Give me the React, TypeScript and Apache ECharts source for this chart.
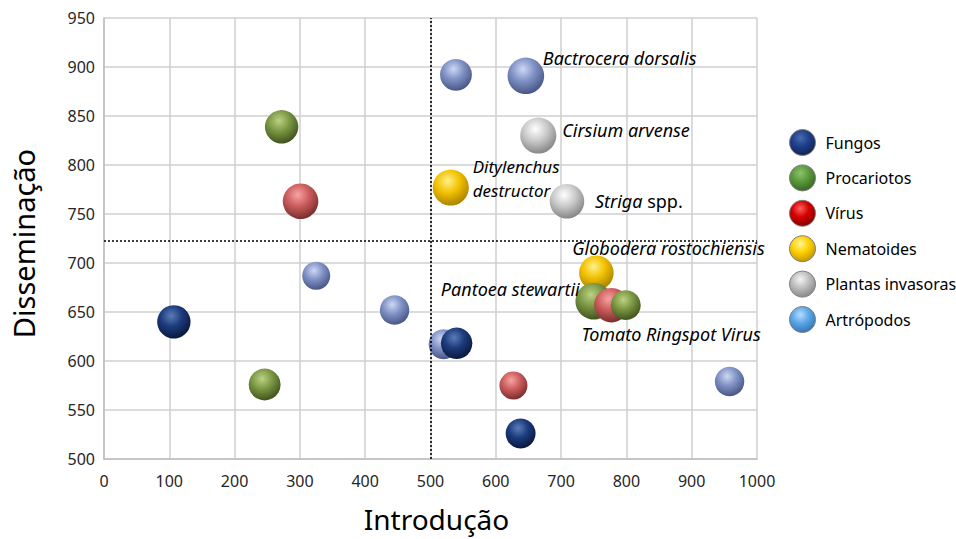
import React, { useEffect, useRef } from "react";
import * as echarts from "echarts";

// ---- data ----
const categories = ["Fungos", "Procariotos", "Vírus", "Nematoides", "Plantas invasoras", "Artrópodos"];

const fungosX = [107, 540, 638];
const fungosY = [640, 618, 526];
const fungosZ = [83, 74, 67];
const fungosNames = ["", "", ""];

const procariotosX = [272, 246, 750, 799];
const procariotosY = [839, 576, 661, 657];
const procariotosZ = [83, 76, 100, 67];
const procariotosNames = ["", "", "Pantoea stewartii", ""];

const virusX = [301, 627, 777];
const virusY = [763, 575, 657];
const virusZ = [94, 59, 89];
const virusNames = ["", "", "Tomato Ringspot Virus"];

const nematoidesX = [531, 754];
const nematoidesY = [777, 690];
const nematoidesZ = [97, 89];
const nematoidesNames = ["Ditylenchus\ndestructor", "Globodera rostochiensis"];

const plantasX = [665, 709];
const plantasY = [830, 763];
const plantasZ = [97, 89];
const plantasNames = ["Cirsium arvense", "Striga spp."];

const artropodosX = [539, 646, 325, 445, 520, 958];
const artropodosY = [892, 891, 687, 652, 617, 579];
const artropodosZ = [76, 100, 59, 65, 67, 65];
const artropodosNames = ["", "Bactrocera dorsalis", "", "", "", ""];

const xTicks = { min: 0, max: 1000, interval: 100 };
const yTicks = { min: 500, max: 950, interval: 50 };
const dividerX = 500;
const dividerY = 723;

// ---- styling helpers ----
const FONT = "Noto Sans";
const NOTE_SIZE = 18;

function sphere(light: string, base: string, dark: string) {
  return {
    type: "radial",
    x: 0.42,
    y: 0.32,
    r: 0.78,
    colorStops: [
      { offset: 0, color: light },
      { offset: 0.42, color: base },
      { offset: 0.85, color: dark },
      { offset: 1, color: dark },
    ],
  };
}

const plotColors: Record<string, any> = {
  Fungos: sphere("#5b7cb8", "#1c3b7c", "#0b1a42"),
  Procariotos: sphere("#bcd184", "#7a9743", "#445720"),
  "Vírus": sphere("#f6a4a4", "#cc5c5c", "#7e3030"),
  Nematoides: sphere("#fff08a", "#f2c200", "#b08600"),
  "Plantas invasoras": sphere("#ffffff", "#cacaca", "#8a8a8a"),
  "Artrópodos": sphere("#cdd8f4", "#7f91c4", "#4b5988"),
};

const legendColors: Record<string, any> = {
  Fungos: sphere("#4a6cb0", "#1f3f8c", "#11255a"),
  Procariotos: sphere("#8cc46c", "#5c9a3c", "#3a6a24"),
  "Vírus": sphere("#ff6060", "#d40000", "#8a0000"),
  Nematoides: sphere("#fff59a", "#ffd200", "#c89a00"),
  "Plantas invasoras": sphere("#f4f4f4", "#bfbfbf", "#8c8c8c"),
  "Artrópodos": sphere("#b8dcff", "#5aa8e8", "#3a78b8"),
};

const labelLayout: Record<string, any> = {
  "Bactrocera dorsalis": { align: "left", offset: [17, -18] },
  "Cirsium arvense": { align: "left", offset: [24, -6] },
  "Ditylenchus\ndestructor": { align: "left", offset: [22, -9], lineHeight: 24, fontSize: 17 },
  "Striga spp.": { align: "left", offset: [28, 0] },
  "Globodera rostochiensis": { align: "left", offset: [-24, -25] },
  "Pantoea stewartii": { align: "right", offset: [-14, -12] },
  "Tomato Ringspot Virus": { align: "left", offset: [-30, 29] },
};

function sizeOf(z: number) {
  return 36.6 * Math.sqrt(z / 100);
}

function buildData(xs: number[], ys: number[], zs: number[], names: string[], pick?: number[]) {
  const idx = pick ?? xs.map((_, i) => i);
  return idx.map((i) => {
    const item: any = { value: [xs[i], ys[i], zs[i]], name: names[i] };
    const name = names[i];
    if (name) {
      const l = labelLayout[name];
      const isStriga = name === "Striga spp.";
      const fs = l.fontSize ?? NOTE_SIZE;
      item.label = {
        show: true,
        position: "inside",
        align: l.align,
        verticalAlign: "middle",
        offset: l.offset,
        lineHeight: l.lineHeight,
        color: "#000",
        fontFamily: FONT,
        fontSize: fs,
        fontStyle: "italic",
        formatter: isStriga ? "{i|Striga} {n|spp.}" : name,
        rich: isStriga
          ? {
              i: { fontStyle: "italic", fontFamily: FONT, fontSize: fs, color: "#000" },
              n: { fontStyle: "normal", fontFamily: FONT, fontSize: fs, color: "#000" },
            }
          : undefined,
      };
    }
    return item;
  });
}

function bubbleSeries(name: string, data: any[], z: number) {
  return {
    type: "scatter",
    name,
    z,
    data,
    symbol: "circle",
    symbolSize: (v: number[]) => sizeOf(v[2]),
    itemStyle: { color: plotColors[name], opacity: 1 },
    emphasis: { disabled: true },
    label: { show: false },
  };
}

export default function App() {
  const ref = useRef<HTMLDivElement>(null);

  useEffect(() => {
    if (!ref.current) return;
    const chart = echarts.init(ref.current, undefined, { renderer: "svg" });

    const series: any[] = [
      {
        type: "scatter",
        name: "__dividers",
        z: 1,
        data: [],
        markLine: {
          silent: true,
          symbol: "none",
          label: { show: false },
          lineStyle: { color: "#000", type: [2, 2], width: 1.6 },
          data: [{ xAxis: dividerX }, { yAxis: dividerY }],
        },
      },
      bubbleSeries("Artrópodos", buildData(artropodosX, artropodosY, artropodosZ, artropodosNames), 2),
      bubbleSeries("Nematoides", buildData(nematoidesX, nematoidesY, nematoidesZ, nematoidesNames), 3),
      bubbleSeries("Procariotos", buildData(procariotosX, procariotosY, procariotosZ, procariotosNames, [0, 1, 2]), 4),
      bubbleSeries("Vírus", buildData(virusX, virusY, virusZ, virusNames), 5),
      bubbleSeries("Fungos", buildData(fungosX, fungosY, fungosZ, fungosNames), 6),
      bubbleSeries("Plantas invasoras", buildData(plantasX, plantasY, plantasZ, plantasNames), 7),
      bubbleSeries("Procariotos", buildData(procariotosX, procariotosY, procariotosZ, procariotosNames, [3]), 8),
    ];

    chart.setOption({
      animation: false,
      backgroundColor: "#ffffff",
      grid: { left: 104, right: 199, top: 18, bottom: 80, containLabel: false },
      legend: {
        orient: "vertical",
        left: 784,
        top: 124,
        itemWidth: 26,
        itemHeight: 26,
        itemGap: 8.4,
        icon: "circle",
        selectedMode: false,
        textStyle: { fontFamily: FONT, fontSize: 16, color: "#000", padding: [0, 0, 0, 5] },
        data: categories.map((c) => ({
          name: c,
          icon: "circle",
          itemStyle: { color: legendColors[c], borderColor: "#7f7f7f", borderWidth: 1 },
        })),
      },
      xAxis: {
        type: "value",
        min: xTicks.min,
        max: xTicks.max,
        interval: xTicks.interval,
        name: "Introdução",
        nameLocation: "middle",
        nameGap: 46,
        nameTextStyle: { fontFamily: FONT, fontSize: 28, color: "#000", padding: [0, 0, 0, 12] },
        axisLine: { show: true, lineStyle: { color: "#bfbfbf", width: 1.5 } },
        axisTick: { show: false },
        axisLabel: {
          fontFamily: FONT,
          fontSize: 16,
          color: "#262626",
          margin: 14,
          formatter: (v: number) => String(v),
        },
        splitLine: { show: true, lineStyle: { color: "#cfcfcf", width: 1.5 } },
      },
      yAxis: {
        type: "value",
        min: yTicks.min,
        max: yTicks.max,
        interval: yTicks.interval,
        name: "Disseminação",
        nameLocation: "middle",
        nameGap: 66,
        nameTextStyle: { fontFamily: FONT, fontSize: 29, color: "#000", padding: [0, 10, 0, 0] },
        axisLine: { show: true, lineStyle: { color: "#bfbfbf", width: 1.5 } },
        axisTick: { show: false },
        axisLabel: {
          fontFamily: FONT,
          fontSize: 16,
          color: "#262626",
          margin: 9,
          formatter: (v: number) => String(v),
        },
        splitLine: { show: true, lineStyle: { color: "#cfcfcf", width: 1.5 } },
      },
      series,
    });

    return () => chart.dispose();
  }, []);

  return (
    <div
      ref={ref}
      style={{ position: "fixed", left: 0, top: 0, width: 956, height: 539, background: "#fff" }}
    />
  );
}
